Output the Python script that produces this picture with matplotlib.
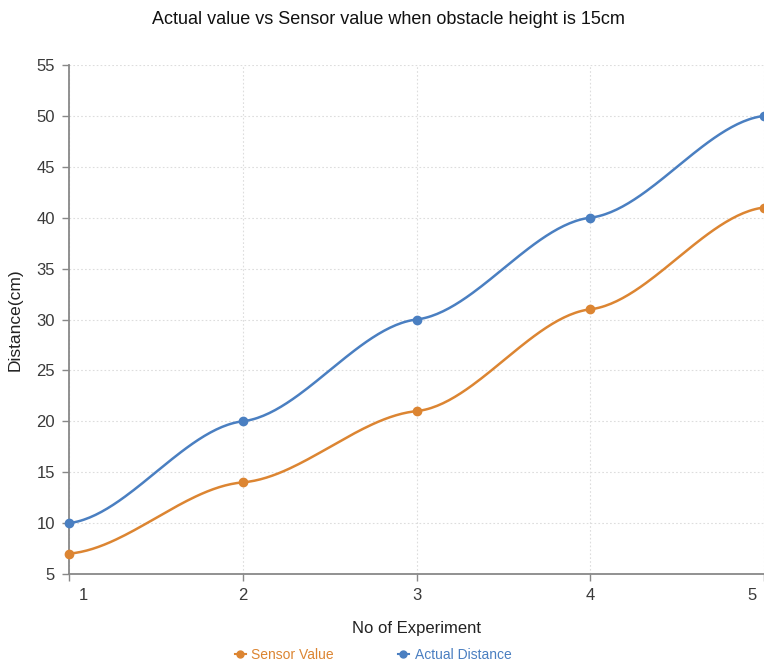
import matplotlib.pyplot as plt
import matplotlib.transforms as mtransforms
import numpy as np
from matplotlib.lines import Line2D

plt.rcParams["font.family"] = ["Liberation Sans", "DejaVu Sans"]

experiments = [1, 2, 3, 4, 5]
sensor_value = [7, 14, 21, 31, 41]
actual_distance = [10, 20, 30, 40, 50]
y_ticks = [5, 10, 15, 20, 25, 30, 35, 40, 45, 50, 55]

ORANGE = "#dc8532"
BLUE = "#4a7fc1"


def smooth(x, y, k=0.2, n=60):
    # cubic hermite with flattened tangents, like the original chart lib
    x = np.asarray(x, float)
    y = np.asarray(y, float)
    sec = np.diff(y) / np.diff(x)
    m = np.empty_like(y)
    m[0], m[-1] = sec[0], sec[-1]
    m[1:-1] = (sec[:-1] + sec[1:]) / 2
    m *= k
    xs, ys = [], []
    for i in range(len(x) - 1):
        h = x[i + 1] - x[i]
        t = np.linspace(0, 1, n)
        h00 = 2 * t**3 - 3 * t**2 + 1
        h10 = t**3 - 2 * t**2 + t
        h01 = -2 * t**3 + 3 * t**2
        h11 = t**3 - t**2
        xs.append(x[i] + t * h)
        ys.append(h00 * y[i] + h10 * h * m[i] + h01 * y[i + 1] + h11 * h * m[i + 1])
    return np.concatenate(xs), np.concatenate(ys)


fig = plt.figure(figsize=(7.64, 6.66), dpi=100)
ax = fig.add_axes([69 / 764, 1 - 574 / 666, 1 - 69 / 764, (574 - 65) / 666])

for vals, color in [(sensor_value, ORANGE), (actual_distance, BLUE)]:
    sx, sy = smooth(experiments, vals)
    ax.plot(sx, sy, color=color, linewidth=1.8, clip_on=False, zorder=3)
    ax.plot(experiments, vals, "o", color=color, markersize=6, clip_on=False, zorder=4)

ax.set_xlim(1, 5)
ax.set_ylim(5, 55)
ax.set_xticks(experiments)
ax.set_yticks(y_ticks)
ax.tick_params(axis="both", labelsize=12, colors="#3a3a3a", length=5, width=1, pad=5)
ax.tick_params(axis="both", color="#888888")
ax.grid(True, color="#dddddd", linestyle=(0, (1.5, 2)), linewidth=0.8)
ax.set_axisbelow(True)
for side in ["top", "right"]:
    ax.spines[side].set_visible(False)
for side in ["left", "bottom"]:
    ax.spines[side].set_color("#888888")
    ax.spines[side].set_linewidth(1.3)

# edge tick labels pulled inward like the original
labels = ax.get_xticklabels()
labels[0].set_transform(labels[0].get_transform()
                        + mtransforms.ScaledTranslation(14 / 100, 0, fig.dpi_scale_trans))
labels[-1].set_transform(labels[-1].get_transform()
                         + mtransforms.ScaledTranslation(-12 / 100, 0, fig.dpi_scale_trans))

ax.set_xlabel("No of Experiment", fontsize=12, color="#222222", labelpad=13)
ax.set_ylabel("Distance(cm)", fontsize=12.5, color="#222222", labelpad=10)
fig.text(388 / 764, 1 - 20 / 666, "Actual value vs Sensor value when obstacle height is 15cm",
         ha="center", va="center", fontsize=13, color="#111111")

handles = [
    Line2D([], [], color=ORANGE, marker="o", markersize=5, linewidth=1.5),
    Line2D([], [], color=BLUE, marker="o", markersize=5, linewidth=1.5),
]
leg = fig.legend(handles, ["Sensor Value", "Actual Distance"], loc="center",
                 bbox_to_anchor=(373 / 764, 1 - 655 / 666), ncol=2, frameon=False,
                 fontsize=10, handlelength=0.8, handletextpad=0.4, columnspacing=4.6)
for text, color in zip(leg.get_texts(), [ORANGE, BLUE]):
    text.set_color(color)

fig.savefig("out.png", dpi=100)
